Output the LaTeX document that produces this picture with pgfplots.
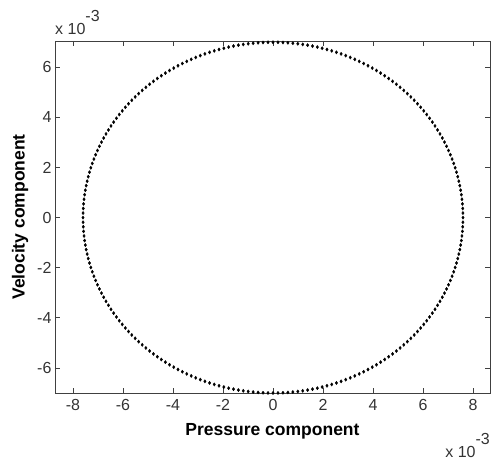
\documentclass[border=0pt]{standalone}
\usepackage{fontspec}
\setmainfont{Liberation Sans}
\usepackage{pgfplots}
\pgfplotsset{compat=1.18}
\usetikzlibrary{calc}
\begin{document}
\begin{tikzpicture}
\begin{axis}[
  scale only axis, width=435pt, height=352pt,
  xmin=-8.72, xmax=8.68, ymin=-7.0, ymax=7.05,
  xtick={-8,-6,...,8}, ytick={-6,-4,...,6},
  tick align=inside, major tick length=5pt,
  xtick pos=both, ytick pos=both,
  axis line style={black!75, line width=0.8pt},
  tick style={black!75, line width=0.8pt},
  /pgf/number format/assume math mode=true,
  tick label style={font=\fontsize{16}{16}\selectfont, text=black!80},
  xticklabel style={yshift=-3pt},
  xlabel={\fontsize{17.5}{17.5}\selectfont\bfseries Pressure component},
  ylabel={\fontsize{17.5}{17.5}\selectfont\bfseries Velocity component},
  xlabel style={yshift=-6pt},
  ylabel style={yshift=2pt},
]
\addplot[only marks, mark=diamond*, mark size=1.6pt, black] coordinates {
(7.600,0.000)(7.589,0.366)(7.558,0.732)(7.507,1.095)(7.434,1.455)(7.341,1.812)(7.228,2.163)(7.095,2.509)(6.943,2.847)(6.772,3.178)(6.582,3.500)(6.374,3.812)(6.148,4.115)(5.906,4.405)(5.648,4.684)(5.374,4.950)(5.085,5.202)(4.783,5.440)(4.467,5.663)(4.139,5.871)(3.800,6.062)(3.450,6.237)(3.091,6.395)(2.724,6.535)(2.349,6.657)(1.967,6.761)(1.580,6.847)(1.189,6.914)(0.794,6.962)(0.398,6.990)
(0.000,7.000)(-0.398,6.990)(-0.794,6.962)(-1.189,6.914)(-1.580,6.847)(-1.967,6.761)(-2.349,6.657)(-2.724,6.535)(-3.091,6.395)(-3.450,6.237)(-3.800,6.062)(-4.139,5.871)(-4.467,5.663)(-4.783,5.440)(-5.085,5.202)(-5.374,4.950)(-5.648,4.684)(-5.906,4.405)(-6.148,4.115)(-6.374,3.812)(-6.582,3.500)(-6.772,3.178)(-6.943,2.847)(-7.095,2.509)(-7.228,2.163)(-7.341,1.812)(-7.434,1.455)(-7.507,1.095)(-7.558,0.732)(-7.589,0.366)
(-7.600,0.000)(-7.589,-0.366)(-7.558,-0.732)(-7.507,-1.095)(-7.434,-1.455)(-7.341,-1.812)(-7.228,-2.163)(-7.095,-2.509)(-6.943,-2.847)(-6.772,-3.178)(-6.582,-3.500)(-6.374,-3.812)(-6.148,-4.115)(-5.906,-4.405)(-5.648,-4.684)(-5.374,-4.950)(-5.085,-5.202)(-4.783,-5.440)(-4.467,-5.663)(-4.139,-5.871)(-3.800,-6.062)(-3.450,-6.237)(-3.091,-6.395)(-2.724,-6.535)(-2.349,-6.657)(-1.967,-6.761)(-1.580,-6.847)(-1.189,-6.914)(-0.794,-6.962)(-0.398,-6.990)
(0.000,-7.000)(0.398,-6.990)(0.794,-6.962)(1.189,-6.914)(1.580,-6.847)(1.967,-6.761)(2.349,-6.657)(2.724,-6.535)(3.091,-6.395)(3.450,-6.237)(3.800,-6.062)(4.139,-5.871)(4.467,-5.663)(4.783,-5.440)(5.085,-5.202)(5.374,-4.950)(5.648,-4.684)(5.906,-4.405)(6.148,-4.115)(6.374,-3.812)(6.582,-3.500)(6.772,-3.178)(6.943,-2.847)(7.095,-2.509)(7.228,-2.163)(7.341,-1.812)(7.434,-1.455)(7.507,-1.095)(7.558,-0.732)(7.589,-0.366)
};
\addplot[only marks, mark=diamond*, mark size=1.6pt, black] coordinates {
(7.597,0.183)(7.577,0.549)(7.535,0.914)(7.473,1.276)(7.390,1.634)(7.287,1.988)(7.164,2.337)(7.021,2.679)(6.860,3.014)(6.679,3.340)(6.480,3.658)(6.263,3.965)(6.029,4.261)(5.779,4.546)(5.513,4.818)(5.231,5.078)(4.936,5.323)(4.627,5.553)(4.305,5.769)(3.971,5.968)(3.626,6.152)(3.272,6.318)(2.908,6.467)(2.537,6.598)(2.159,6.712)(1.774,6.807)(1.385,6.883)(0.992,6.940)(0.596,6.978)(0.199,6.998)
(-7.597,0.183)(-7.577,0.549)(-7.535,0.914)(-7.473,1.276)(-7.390,1.634)(-7.287,1.988)(-7.164,2.337)(-7.021,2.679)(-6.860,3.014)(-6.679,3.340)(-6.480,3.658)(-6.263,3.965)(-6.029,4.261)(-5.779,4.546)(-5.513,4.818)(-5.231,5.078)(-4.936,5.323)(-4.627,5.553)(-4.305,5.769)(-3.971,5.968)(-3.626,6.152)(-3.272,6.318)(-2.908,6.467)(-2.537,6.598)(-2.159,6.712)(-1.774,6.807)(-1.385,6.883)(-0.992,6.940)(-0.596,6.978)(-0.199,6.998)
(-7.597,-0.183)(-7.577,-0.549)(-7.535,-0.914)(-7.473,-1.276)(-7.390,-1.634)(-7.287,-1.988)(-7.164,-2.337)(-7.021,-2.679)(-6.860,-3.014)(-6.679,-3.340)(-6.480,-3.658)(-6.263,-3.965)(-6.029,-4.261)(-5.779,-4.546)(-5.513,-4.818)(-5.231,-5.078)(-4.936,-5.323)(-4.627,-5.553)(-4.305,-5.769)(-3.971,-5.968)(-3.626,-6.152)(-3.272,-6.318)(-2.908,-6.467)(-2.537,-6.598)(-2.159,-6.712)(-1.774,-6.807)(-1.385,-6.883)(-0.992,-6.940)(-0.596,-6.978)(-0.199,-6.998)
(7.597,-0.183)(7.577,-0.549)(7.535,-0.914)(7.473,-1.276)(7.390,-1.634)(7.287,-1.988)(7.164,-2.337)(7.021,-2.679)(6.860,-3.014)(6.679,-3.340)(6.480,-3.658)(6.263,-3.965)(6.029,-4.261)(5.779,-4.546)(5.513,-4.818)(5.231,-5.078)(4.936,-5.323)(4.627,-5.553)(4.305,-5.769)(3.971,-5.968)(3.626,-6.152)(3.272,-6.318)(2.908,-6.467)(2.537,-6.598)(2.159,-6.712)(1.774,-6.807)(1.385,-6.883)(0.992,-6.940)(0.596,-6.978)(0.199,-6.998)
};
\end{axis}
\node[anchor=south west, inner sep=0pt, font=\fontsize{16}{16}\selectfont, text=black!80] at ($(current axis.north west)+(0pt,6pt)$) {x 10\raisebox{13pt}{-3}};
\node[anchor=north east, inner sep=0pt, font=\fontsize{16}{16}\selectfont, text=black!80] at ($(current axis.south east)+(0pt,-40pt)$) {x 10\raisebox{13pt}{-3}};
\pgfresetboundingbox
\path ($(current axis.south west)+(-55pt,-67pt)$) rectangle ($(current axis.north east)+(3pt,41pt)$);
\end{tikzpicture}
\end{document}
